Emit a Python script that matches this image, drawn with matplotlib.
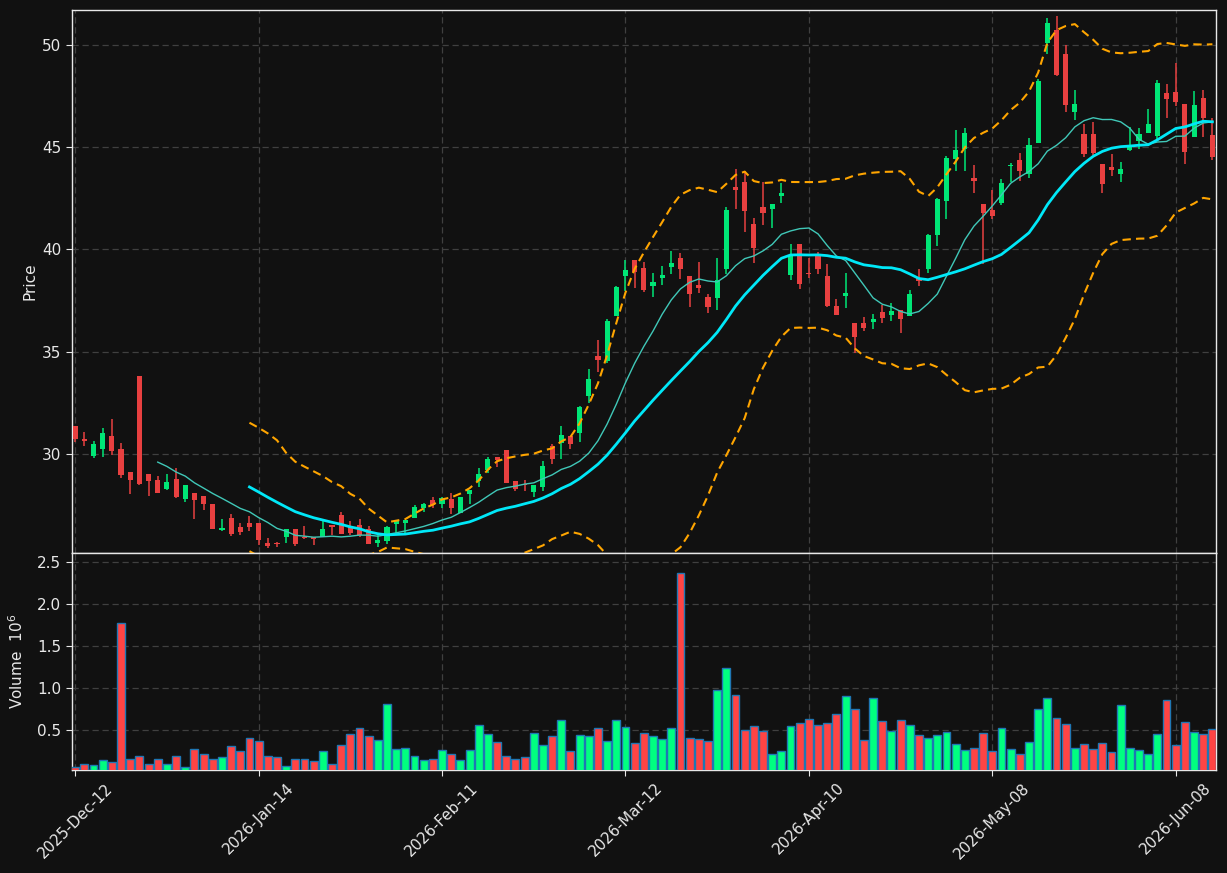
import matplotlib
matplotlib.use("Agg")
import matplotlib.pyplot as plt
import numpy as np
import pandas as pd

# OHLC data
opens = [31.37, 30.73, 29.90, 30.25, 30.88, 30.25, 29.12, 33.81, 29.00, 28.73,
         28.29, 28.78, 27.80, 28.09, 27.95, 27.56, 26.28, 26.87, 26.43, 26.63,
         26.63, 25.65, 25.65, 25.96, 26.33, 25.96, 25.94, 25.94, 26.53, 27.02,
         26.50, 26.53, 26.33, 25.65, 25.75, 26.58, 26.63, 26.89, 27.36, 27.75,
         27.57, 27.80, 27.10, 28.06, 28.70, 29.23, 29.85, 30.20, 28.68, 28.52,
         28.14, 28.39, 30.39, 30.56, 30.88, 31.04, 32.85, 34.79, 34.55, 36.75,
         38.71, 39.49, 39.10, 38.22, 38.61, 39.14, 39.58, 38.70, 38.26, 37.68,
         37.63, 39.05, 43.06, 43.30, 41.25, 42.08, 41.98, 42.62, 38.75, 40.27,
         38.85, 39.73, 38.70, 37.24, 37.73, 36.41, 36.41, 36.46, 36.94, 36.80,
         37.04, 36.75, 38.61, 39.05, 40.71, 42.37, 44.43, 44.92, 43.50, 42.23,
         41.93, 42.27, 44.08, 44.38, 43.69, 45.22, 50.11, 50.73, 49.56, 46.74,
         45.63, 45.63, 44.18, 44.03, 43.71, 44.86, 45.31, 45.71, 45.55, 47.65,
         47.70, 47.11, 45.52, 47.41, 45.60]
highs = [31.37, 31.06, 30.64, 31.27, 31.71, 30.54, 29.12, 33.81, 29.00, 28.92,
         29.00, 29.30, 28.49, 28.09, 27.95, 27.56, 26.80, 27.07, 26.63, 26.97,
         26.63, 25.88, 25.71, 26.32, 26.33, 26.48, 25.94, 26.78, 26.53, 27.15,
         26.71, 26.82, 26.48, 26.04, 26.50, 26.74, 26.79, 27.51, 27.60, 27.88,
         27.90, 28.08, 27.90, 28.26, 29.30, 29.85, 29.85, 30.20, 28.68, 28.73,
         28.47, 29.64, 30.47, 31.37, 30.88, 32.35, 34.16, 35.58, 36.60, 38.22,
         39.49, 39.49, 39.41, 38.83, 39.18, 39.91, 39.81, 38.70, 39.37, 37.82,
         39.57, 42.06, 43.92, 43.86, 41.53, 43.30, 42.23, 43.24, 40.29, 40.27,
         39.58, 39.86, 39.29, 37.56, 38.84, 36.41, 36.68, 36.85, 37.29, 37.37,
         37.04, 38.02, 39.03, 40.76, 42.50, 44.57, 45.84, 45.94, 44.12, 42.23,
         42.91, 43.45, 44.23, 44.72, 45.45, 48.32, 51.30, 51.42, 50.00, 47.80,
         46.14, 46.22, 44.18, 44.67, 44.26, 46.01, 45.92, 46.85, 48.29, 48.09,
         49.10, 47.11, 47.73, 47.78, 46.41]
lows = [30.60, 30.41, 29.82, 29.87, 29.94, 28.81, 28.06, 28.49, 27.96, 28.09,
        28.24, 27.85, 27.65, 26.84, 27.26, 26.33, 26.24, 25.99, 26.04, 26.24,
        25.55, 25.39, 25.44, 25.63, 25.50, 25.83, 25.53, 25.93, 26.04, 26.09,
        26.02, 25.93, 25.60, 25.47, 25.58, 26.12, 26.12, 26.89, 27.18, 27.34,
        27.38, 27.05, 27.10, 27.54, 28.40, 29.06, 29.38, 28.60, 28.21, 28.17,
        27.91, 28.21, 29.49, 29.74, 30.26, 30.60, 32.51, 34.03, 34.47, 36.75,
        37.99, 38.10, 37.94, 37.66, 38.28, 38.82, 38.54, 37.21, 37.86, 36.91,
        37.03, 38.80, 41.96, 40.87, 39.36, 41.18, 41.04, 42.29, 38.53, 38.05,
        38.62, 38.80, 37.21, 36.80, 37.16, 34.92, 36.03, 36.13, 36.42, 36.49,
        35.90, 36.75, 38.22, 38.87, 40.19, 41.51, 43.86, 43.86, 42.76, 39.29,
        41.50, 42.20, 43.30, 43.35, 43.50, 45.20, 49.54, 48.50, 46.74, 46.33,
        44.54, 44.60, 42.78, 43.61, 43.32, 44.80, 44.90, 45.70, 45.42, 46.41,
        47.02, 44.16, 45.50, 45.52, 44.40]
closes = [30.73, 30.64, 30.49, 31.03, 30.15, 28.97, 28.73, 28.53, 28.68, 28.09,
          28.63, 27.90, 28.49, 27.75, 27.56, 26.33, 26.38, 26.09, 26.19, 26.43,
          25.80, 25.50, 25.62, 26.32, 25.60, 25.91, 25.86, 26.32, 26.45, 26.09,
          26.14, 26.04, 25.60, 25.80, 26.43, 26.74, 26.79, 27.41, 27.56, 27.51,
          27.85, 27.38, 27.90, 28.26, 29.02, 29.76, 29.71, 28.60, 28.31, 28.49,
          28.47, 29.41, 29.76, 30.93, 30.51, 32.30, 33.67, 34.61, 36.50, 38.17,
          39.00, 38.90, 38.02, 38.41, 38.75, 39.34, 39.05, 37.82, 38.12, 37.19,
          38.51, 41.93, 42.93, 41.90, 40.07, 41.80, 42.23, 42.76, 39.75, 38.31,
          38.82, 39.05, 37.25, 36.80, 37.87, 35.74, 36.16, 36.60, 36.65, 36.99,
          36.60, 37.82, 38.46, 40.71, 42.47, 44.48, 44.87, 45.70, 43.35, 41.79,
          41.64, 43.25, 44.11, 43.85, 45.11, 48.24, 51.06, 48.53, 47.06, 47.10,
          44.67, 44.70, 43.22, 43.89, 43.94, 45.11, 45.65, 46.14, 48.14, 47.36,
          47.21, 44.78, 47.07, 46.45, 44.54]
# volume in millions
volumes = [0.056, 0.09, 0.08, 0.14, 0.115, 1.77, 0.16, 0.19, 0.09, 0.15,
           0.10, 0.19, 0.056, 0.27, 0.22, 0.15, 0.175, 0.31, 0.25, 0.41,
           0.365, 0.19, 0.175, 0.068, 0.15, 0.16, 0.127, 0.25, 0.09, 0.32,
           0.45, 0.52, 0.425, 0.38, 0.806, 0.27, 0.29, 0.19, 0.14, 0.15,
           0.26, 0.22, 0.14, 0.26, 0.556, 0.45, 0.354, 0.19, 0.15, 0.175,
           0.46, 0.32, 0.425, 0.615, 0.25, 0.437, 0.425, 0.52, 0.365, 0.615,
           0.532, 0.34, 0.46, 0.425, 0.39, 0.52, 2.365, 0.41, 0.39, 0.365,
           0.973, 1.235, 0.913, 0.496, 0.544, 0.484, 0.21, 0.25, 0.544, 0.58,
           0.627, 0.556, 0.58, 0.687, 0.90, 0.746, 0.38, 0.877, 0.603, 0.484,
           0.615, 0.556, 0.437, 0.40, 0.437, 0.472, 0.33, 0.26, 0.29, 0.46,
           0.25, 0.52, 0.27, 0.21, 0.354, 0.746, 0.877, 0.639, 0.568, 0.29,
           0.33, 0.27, 0.34, 0.234, 0.794, 0.28, 0.26, 0.21, 0.45, 0.853,
           0.32, 0.59, 0.472, 0.45, 0.51]

holidays = ["2025-12-25", "2025-12-26", "2026-01-01", "2026-02-16", "2026-04-03", "2026-05-25"]
dates = pd.bdate_range("2025-12-12", periods=len(closes), freq="C", holidays=holidays)

df = pd.DataFrame({"o": opens, "h": highs, "l": lows, "c": closes, "v": volumes}, index=dates)
x = np.arange(len(df))
up = df["c"] >= df["o"]

mav10 = df["c"].rolling(10).mean()
sma20 = df["c"].rolling(20).mean()
std20 = df["c"].rolling(20).std(ddof=0)
bb_up = sma20 + 2 * std20
bb_lo = sma20 - 2 * std20

bg = "#111111"
c_up = "#00e676"
c_dn = "#e84040"
v_up = "#00ff80"
v_dn = "#ff4444"

plt.rcParams["font.family"] = "DejaVu Sans"
fig = plt.figure(figsize=(12.27, 8.73), dpi=100, facecolor=bg)
ax = fig.add_axes([0.0583, 0.36655, 0.9328, 0.62199], facecolor=bg)
axv = fig.add_axes([0.0583, 0.1180, 0.9328, 0.24855], facecolor=bg, sharex=ax)

# candles
cols = np.where(up, c_up, c_dn)
ax.vlines(x, df["l"], df["h"], colors=cols, linewidth=1.1, zorder=2)
body_lo = np.minimum(df["o"], df["c"])
body_h = np.maximum(np.abs(df["c"] - df["o"]), 0.04)
ax.bar(x, body_h, bottom=body_lo, width=0.56, color=cols, linewidth=0, zorder=3)

# moving averages and bands
ax.plot(x, mav10, color="#40c8b8", linewidth=1.0, zorder=4)
ax.plot(x, sma20, color="#00e8f8", linewidth=2.0, zorder=4)
ax.plot(x, bb_up, color="#ffa500", linewidth=1.5, linestyle=(0, (4, 2.5)), zorder=4)
ax.plot(x, bb_lo, color="#ffa500", linewidth=1.5, linestyle=(0, (4, 2.5)), zorder=4)

# volume
vcols = np.where(up, v_up, v_dn)
axv.bar(x, df["v"], width=0.86, color=vcols, edgecolor="#1f77b4", linewidth=1.0, zorder=3)

ax.set_xlim(-0.4, len(df) - 0.6)
ax.set_ylim(25.16, 51.71)
axv.set_ylim(0.024, 2.607)

ax.set_yticks([30, 35, 40, 45, 50])
axv.set_yticks([0.5, 1.0, 1.5, 2.0, 2.5])
tick_pos = list(range(0, len(df), 20))
axv.set_xticks(tick_pos)
axv.set_xticklabels([dates[i].strftime("%Y-%b-%d") for i in tick_pos], rotation=45, ha="center")
plt.setp(ax.get_xticklabels(), visible=False)

for a in (ax, axv):
    a.grid(True, color="#404040", linestyle=(0, (5, 3)), linewidth=0.9)
    a.set_axisbelow(True)
    for s in a.spines.values():
        s.set_color("#e8e8e8")
        s.set_linewidth(1.0)
    a.tick_params(colors="#e8e8e8", labelcolor="#e8e8e8", labelsize=11, length=4)

ax.tick_params(axis="x", length=0)
ax.set_ylabel("Price", color="#e8e8e8", fontsize=11, labelpad=3)
axv.set_ylabel("Volume  $10^6$", color="#e8e8e8", fontsize=11, labelpad=8)

fig.savefig("out.png", dpi=100, facecolor=bg)
